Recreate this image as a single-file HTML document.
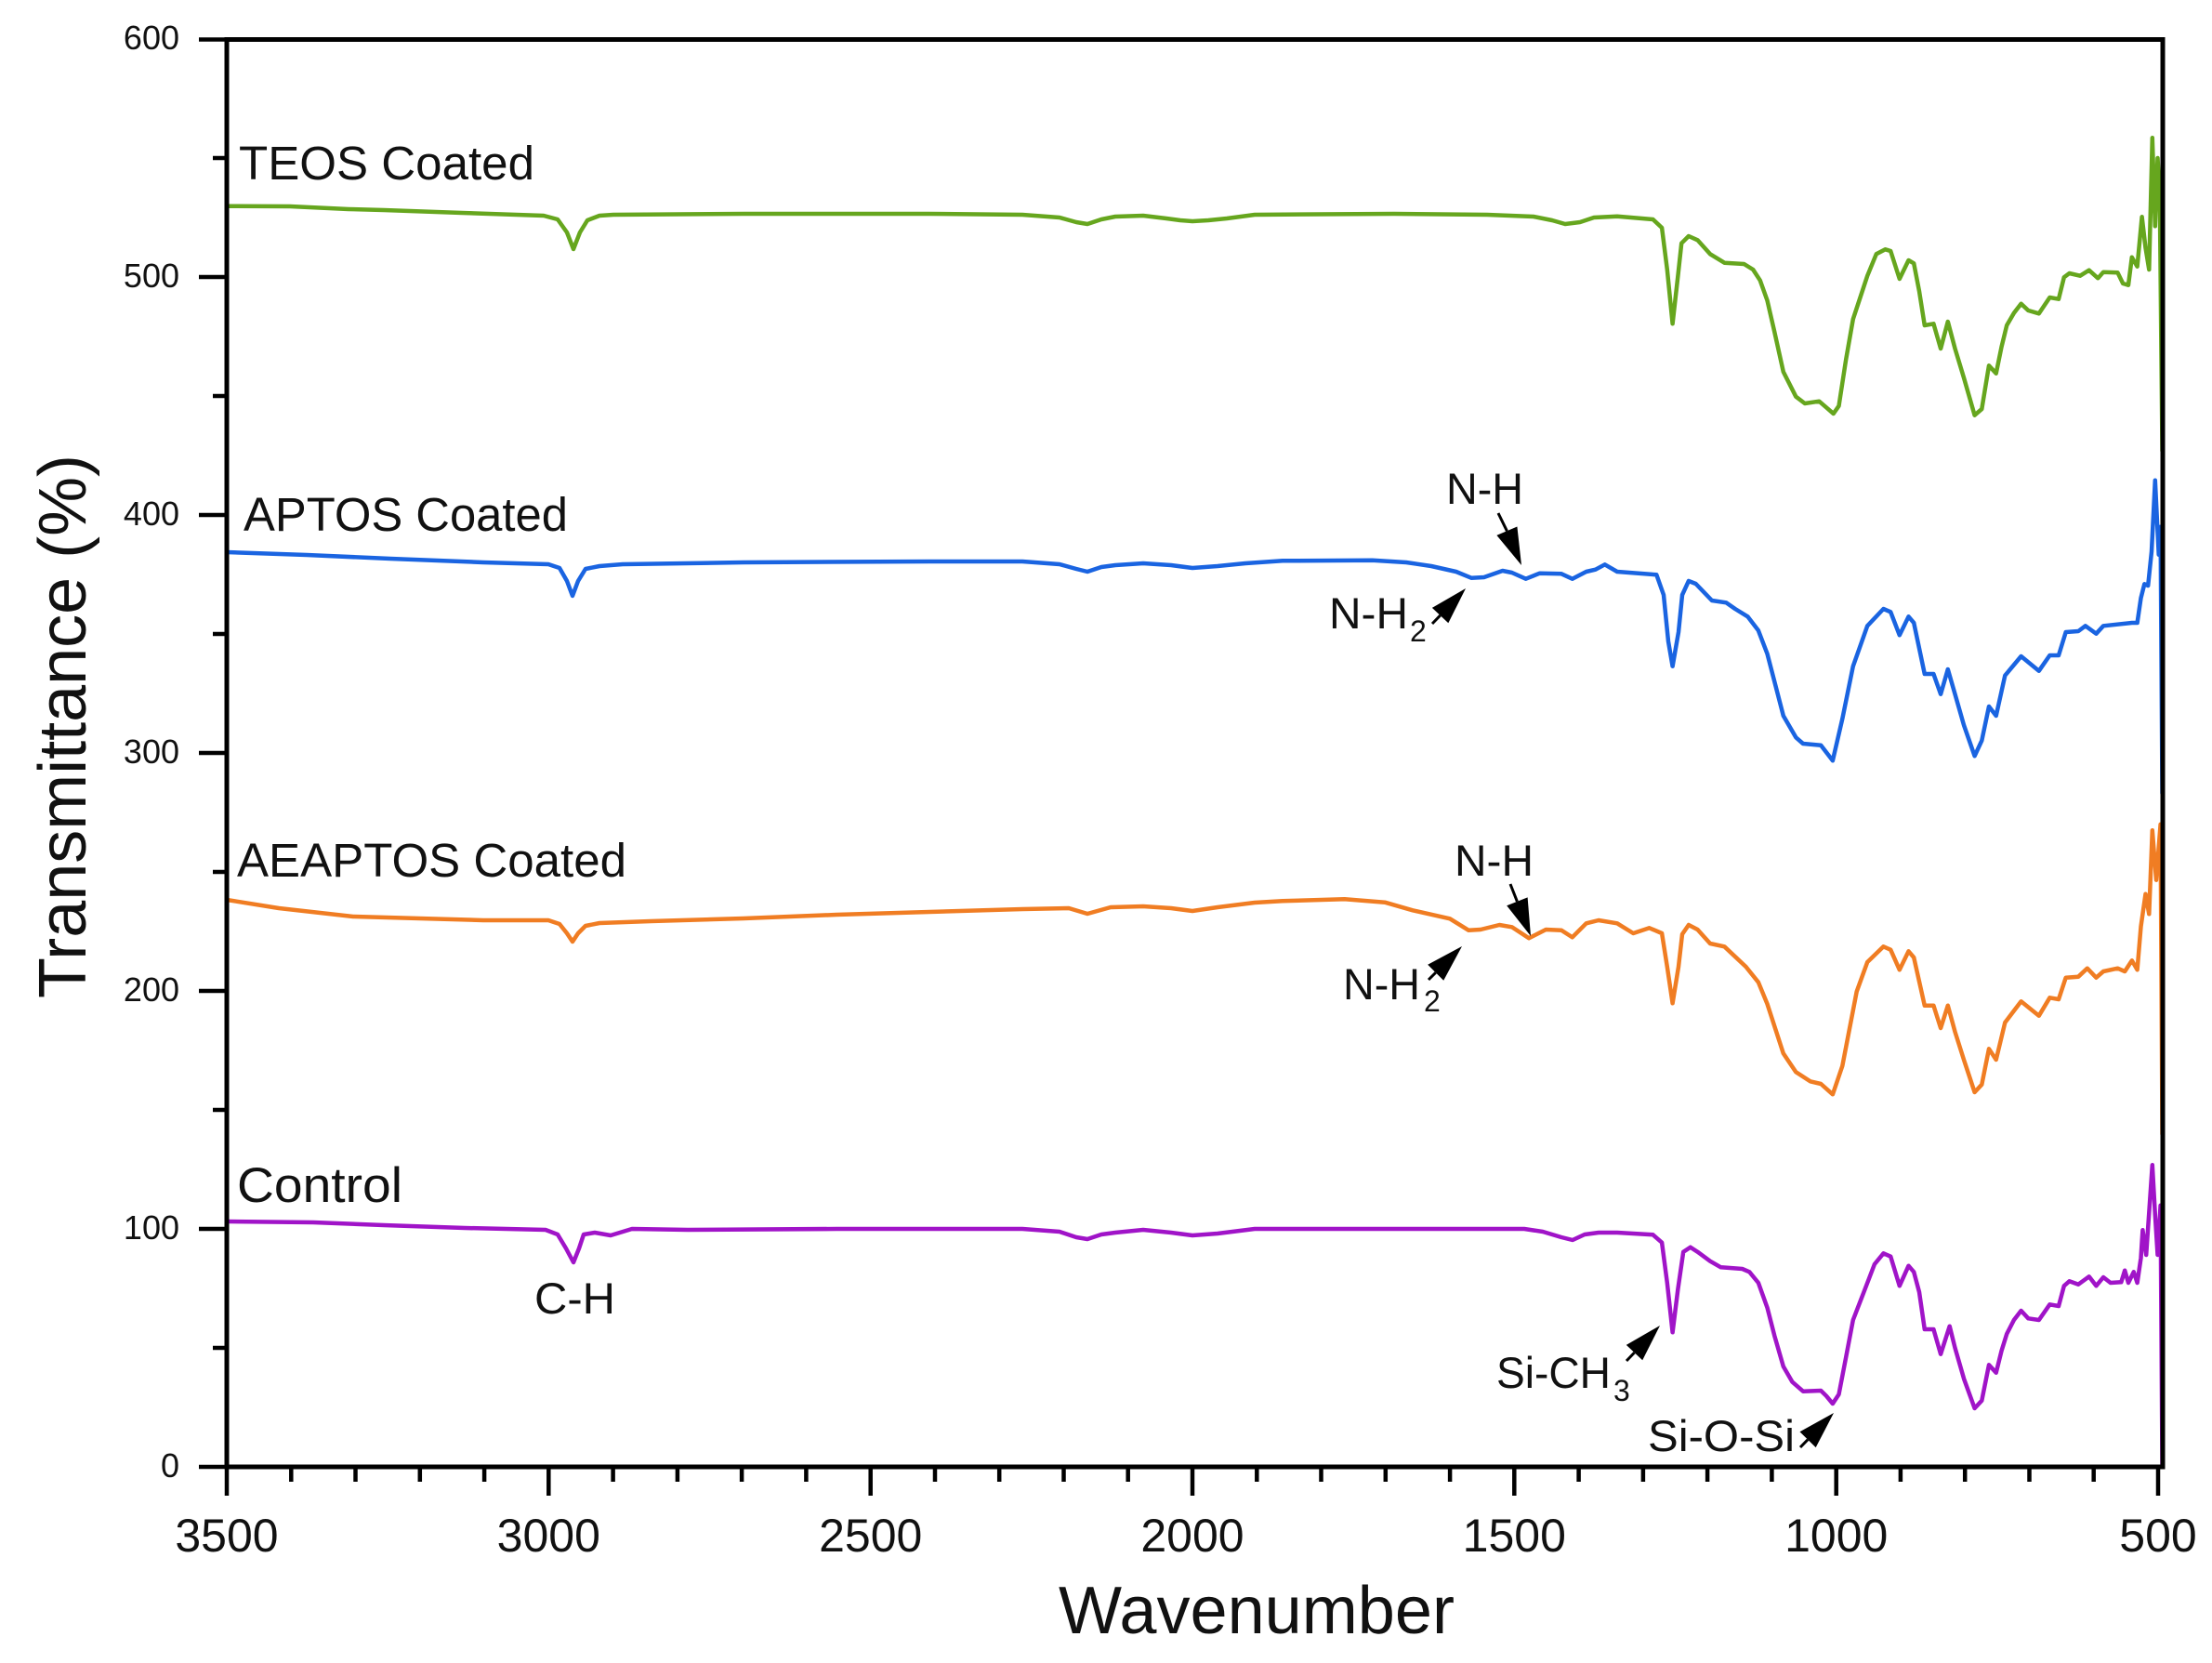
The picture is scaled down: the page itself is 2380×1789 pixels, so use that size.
<!DOCTYPE html>
<html>
<head>
<meta charset="utf-8">
<style>
html,body{margin:0;padding:0;background:#fff;}
svg{display:block;}
text{font-family:"Liberation Sans", Arial, sans-serif; fill:#111;}
</style>
</head>
<body>
<svg width="2380" height="1789" viewBox="0 0 2380 1789" xmlns="http://www.w3.org/2000/svg">
<rect x="0" y="0" width="2380" height="1789" fill="#fff"/>

<!-- Series -->
<g fill="none" stroke-width="4.5" stroke-linejoin="round" stroke-linecap="round">
<polyline stroke="#66a61e" points="244,221.7 312,222 375,225 413,226 497,229 585,232 600,236 610,250 617,268 624,250 632,237 645,232 660,231 800,230 1000,230 1100,231 1140,234 1158,239 1170,241 1185,236 1200,233 1230,232 1255,235 1270,237 1283,238 1300,237 1320,235 1350,231 1500,230 1600,231 1650,233 1670,237 1684,241 1700,239 1715,234 1740,232.7 1778.5,236 1788.1,245 1793.8,290 1799.6,348.3 1805.4,296.7 1809.2,261.7 1816.9,254 1826.5,258.3 1840,273.3 1855.4,282.7 1876.5,284 1886.2,290 1893.8,301.7 1901.5,323.3 1909.2,356.7 1918.8,400 1932.3,426.7 1941.9,434 1957.3,431.7 1965,438.3 1972.7,445 1978.5,436.7 1986.2,386.7 1993.8,343.3 2001.5,320 2009.2,296.7 2018.8,273.3 2028.5,268.3 2034.2,270 2043.8,300 2053.5,280 2059.2,283.3 2065,313.3 2070.8,350 2080.4,348.3 2088.1,375 2095.8,346 2103.5,375 2113.1,406.7 2124.6,446.7 2132.3,440 2140,393.3 2147.7,401.7 2153.5,373.3 2159.2,350 2166.9,336.7 2174.6,326.7 2182.3,334 2193.8,337.3 2205.4,320 2215,321.7 2220.8,298.3 2226.5,294 2238.1,296.7 2247.7,290.7 2257.3,299.3 2263.1,292.7 2278.5,293.3 2284.2,305 2290,306.7 2293.8,276.7 2299.6,286.7 2304.6,233.3 2308.5,266.7 2312.3,290 2315.8,148.3 2318.8,243.3 2321.5,170 2323.8,213.3 2326.5,485"/>

<polyline stroke="#1a64e1" points="244,594 330,597 420,601 520,605 590,607 602,611 610,625 616,641 622,625 630,612 645,609 670,607 800,605 1000,604 1100,604 1140,607 1158,612 1170,615 1185,610 1200,608 1230,606 1260,608 1283,611 1310,609 1340,606 1380,603.3 1476.7,602.7 1513,605 1540,609 1566.7,615 1583,621.7 1596.7,621 1616.7,614 1626.7,616 1641.7,622.7 1656.7,616.7 1680,617.3 1691.7,622.7 1706.7,615 1716.7,612.7 1726.7,607.3 1740,615 1782.3,618.3 1790,640 1795,690 1799.6,716.7 1806,680 1810,640 1816.9,625 1824.6,628 1841.9,646 1857.3,648.3 1866.9,655 1880.4,663.3 1891.9,678.3 1901.5,703.3 1918.8,770 1932.3,793.3 1940,800 1959.2,801.7 1971.9,818.3 1982.3,773.3 1993.8,716.7 2009.2,673.3 2026.5,655 2034.2,658.3 2043.8,683.3 2053.5,663.3 2059.2,670 2070.8,725 2080.4,725 2088.1,746.7 2095.8,720 2103.5,746.7 2113,780 2124.6,813.3 2132.3,796.7 2140,760 2147.7,770 2157.3,726.7 2174.6,706 2193.8,721.7 2205.4,705 2215,705 2222.7,680 2236.2,679 2243.8,673.3 2255.4,681.7 2263.1,673.3 2293.8,670 2299.6,670 2303.5,643.3 2307.3,628.3 2311.2,630 2315,593.3 2318.8,516.7 2322.7,596.7 2324.6,566.7 2326.5,853.3"/>

<polyline stroke="#f07d23" points="244,968 300,977 380,986 520,990 590,990 602,994 610,1004 616,1013 622,1004 630,996 645,993 700,991 800,988 900,984 1000,981 1100,978 1150,977 1170,983 1195,976 1230,975 1260,977 1283,980 1310,976 1350,971 1380,969.3 1446.7,967.3 1490,970.7 1520,979.3 1560,988.3 1580,1000.7 1593,1000 1613.3,995 1626.7,997.3 1645,1009.3 1663.3,1000 1680,1000.7 1691.7,1008.3 1706.7,993.3 1720,990 1740,993.3 1757.3,1004 1774.6,998.3 1788.1,1004 1793.8,1040 1799.6,1079.3 1806,1040 1810,1005 1816.9,995 1826.5,1000 1840,1015 1855.4,1018.3 1878.5,1040 1891.9,1056.7 1901.5,1080 1918.8,1133.3 1932.3,1153.3 1947.7,1163.3 1959.2,1166 1971.9,1177.3 1982.3,1146.7 1997.7,1066.7 2009.2,1035 2026.5,1018.3 2034.2,1021.7 2043.8,1043.3 2053.5,1023.3 2059.2,1030 2070.8,1081.7 2080.4,1081.7 2088.1,1106 2095.8,1081.7 2103.5,1110 2113,1140 2124.6,1175 2132.3,1166.7 2140,1128.3 2147.7,1140 2157.3,1100 2174.6,1077.3 2193.8,1092.7 2205.4,1073.3 2215,1075 2222.7,1051.7 2236.2,1050.7 2245.8,1041.7 2255.4,1051.7 2263.1,1045 2278.5,1041.7 2286.2,1045 2293.8,1033.3 2299.6,1043.3 2303.5,996.7 2308.5,961.7 2312.3,983.3 2315.8,893.3 2320,946.7 2324.6,886.7 2326.5,1220"/>

<polyline stroke="#a014c8" points="244,1314 337,1315 413,1318 500,1321 587,1323 600,1328 609,1343 617,1358 623,1343 628,1328 640,1326 657,1329 680,1322 740,1323 900,1322 1100,1322 1140,1325 1158,1331 1170,1333 1185,1328 1200,1326 1230,1323 1260,1326 1283,1329 1310,1327 1350,1322 1500,1322 1640,1322 1660,1325 1680,1331 1692,1334 1705,1328 1720,1326 1740,1326 1778.5,1328.3 1788.1,1336.7 1793.8,1380 1799.6,1433.3 1805.4,1386.7 1811.2,1346.7 1818.8,1341.7 1826.5,1346.7 1840,1356.7 1851.5,1363.3 1874.6,1365 1882.3,1368.3 1891.9,1380 1901.5,1406.7 1909.2,1436.7 1918.8,1470 1928.5,1486.7 1940,1496.7 1959.2,1496 1965,1501.7 1971.9,1510 1978.5,1500 1986.2,1460 1993.8,1420 2005.4,1390 2016.9,1360 2026.5,1348.3 2034.2,1351.7 2043.8,1383.3 2053.5,1361.7 2059.2,1368.3 2065,1390 2070.8,1430 2080.4,1430 2088.1,1456.7 2097.7,1426.7 2103.5,1450 2113.1,1483.3 2124.6,1515 2132.3,1506.7 2140,1468.3 2147.7,1476.7 2153.5,1453.3 2159.2,1435 2166.9,1420 2174.6,1410 2182.3,1418.3 2193.8,1420 2205.4,1403.3 2215,1405 2220.8,1383.3 2226.5,1378.3 2236.2,1381.7 2247.7,1373.3 2255.4,1383.3 2263.1,1374 2270.8,1380 2282.3,1379.3 2286.2,1366.7 2290,1380 2295.8,1368.3 2299.6,1380 2303.5,1353.3 2305.4,1323.3 2309.2,1350 2315.8,1253.3 2318.8,1306.7 2321.5,1350 2324.6,1296.7 2326.5,1578"/>
</g>

<!-- Frame -->
<rect x="244" y="42.5" width="2083" height="1535.5" fill="none" stroke="#000" stroke-width="5"/>

<!-- Y ticks -->
<g stroke="#000" stroke-width="4.5">
<line x1="214" y1="1578" x2="244" y2="1578"/>
<line x1="214" y1="1322" x2="244" y2="1322"/>
<line x1="214" y1="1066" x2="244" y2="1066"/>
<line x1="214" y1="810" x2="244" y2="810"/>
<line x1="214" y1="554" x2="244" y2="554"/>
<line x1="214" y1="298" x2="244" y2="298"/>
<line x1="214" y1="42.5" x2="244" y2="42.5"/>
<line x1="229" y1="1450" x2="244" y2="1450"/>
<line x1="229" y1="1194" x2="244" y2="1194"/>
<line x1="229" y1="938" x2="244" y2="938"/>
<line x1="229" y1="682" x2="244" y2="682"/>
<line x1="229" y1="426" x2="244" y2="426"/>
<line x1="229" y1="170" x2="244" y2="170"/>
</g>

<!-- X ticks -->
<g stroke="#000" stroke-width="4.5">
<line x1="244" y1="1578" x2="244" y2="1609"/>
<line x1="590.3" y1="1578" x2="590.3" y2="1609"/>
<line x1="936.7" y1="1578" x2="936.7" y2="1609"/>
<line x1="1283" y1="1578" x2="1283" y2="1609"/>
<line x1="1629.3" y1="1578" x2="1629.3" y2="1609"/>
<line x1="1975.7" y1="1578" x2="1975.7" y2="1609"/>
<line x1="2322" y1="1578" x2="2322" y2="1609"/>
<line x1="313.3" y1="1578" x2="313.3" y2="1594"/>
<line x1="382.5" y1="1578" x2="382.5" y2="1594"/>
<line x1="451.8" y1="1578" x2="451.8" y2="1594"/>
<line x1="521.1" y1="1578" x2="521.1" y2="1594"/>
<line x1="659.6" y1="1578" x2="659.6" y2="1594"/>
<line x1="728.9" y1="1578" x2="728.9" y2="1594"/>
<line x1="798.1" y1="1578" x2="798.1" y2="1594"/>
<line x1="867.4" y1="1578" x2="867.4" y2="1594"/>
<line x1="1006" y1="1578" x2="1006" y2="1594"/>
<line x1="1075.2" y1="1578" x2="1075.2" y2="1594"/>
<line x1="1144.5" y1="1578" x2="1144.5" y2="1594"/>
<line x1="1213.7" y1="1578" x2="1213.7" y2="1594"/>
<line x1="1352.3" y1="1578" x2="1352.3" y2="1594"/>
<line x1="1421.5" y1="1578" x2="1421.5" y2="1594"/>
<line x1="1490.8" y1="1578" x2="1490.8" y2="1594"/>
<line x1="1560.1" y1="1578" x2="1560.1" y2="1594"/>
<line x1="1698.6" y1="1578" x2="1698.6" y2="1594"/>
<line x1="1767.9" y1="1578" x2="1767.9" y2="1594"/>
<line x1="1837.1" y1="1578" x2="1837.1" y2="1594"/>
<line x1="1906.4" y1="1578" x2="1906.4" y2="1594"/>
<line x1="2044.9" y1="1578" x2="2044.9" y2="1594"/>
<line x1="2114.2" y1="1578" x2="2114.2" y2="1594"/>
<line x1="2183.5" y1="1578" x2="2183.5" y2="1594"/>
<line x1="2252.7" y1="1578" x2="2252.7" y2="1594"/>
</g>

<!-- Y tick labels -->
<g font-size="36" text-anchor="end">
<text x="193" y="1589">0</text>
<text x="193" y="1333">100</text>
<text x="193" y="1077">200</text>
<text x="193" y="821">300</text>
<text x="193" y="565">400</text>
<text x="193" y="309">500</text>
<text x="193" y="53">600</text>
</g>

<!-- X tick labels -->
<g font-size="50" text-anchor="middle">
<text x="244" y="1669">3500</text>
<text x="590.3" y="1669">3000</text>
<text x="936.7" y="1669">2500</text>
<text x="1283" y="1669">2000</text>
<text x="1629.3" y="1669">1500</text>
<text x="1975.7" y="1669">1000</text>
<text x="2322" y="1669">500</text>
</g>

<!-- Axis titles -->
<text x="1139" y="1757" font-size="72" textLength="426" lengthAdjust="spacingAndGlyphs">Wavenumber</text>
<text transform="translate(92,1074) rotate(-90)" x="0" y="0" font-size="72" textLength="585" lengthAdjust="spacingAndGlyphs">Transmittance (%)</text>

<!-- Series labels -->
<text x="257" y="193" font-size="51" textLength="318" lengthAdjust="spacingAndGlyphs">TEOS Coated</text>
<text x="262" y="571" font-size="51" textLength="349" lengthAdjust="spacingAndGlyphs">APTOS Coated</text>
<text x="255" y="943" font-size="51" textLength="419" lengthAdjust="spacingAndGlyphs">AEAPTOS Coated</text>
<text x="255" y="1293" font-size="53" textLength="178" lengthAdjust="spacingAndGlyphs">Control</text>

<!-- Annotations -->
<g font-size="47">
<text x="1556" y="542" textLength="83" lengthAdjust="spacingAndGlyphs">N-H</text>
<text x="1430" y="676" textLength="85" lengthAdjust="spacingAndGlyphs">N-H</text>
<text x="1517" y="690" font-size="32">2</text>
<text x="1565" y="942" textLength="85" lengthAdjust="spacingAndGlyphs">N-H</text>
<text x="1445" y="1075" textLength="83" lengthAdjust="spacingAndGlyphs">N-H</text>
<text x="1532" y="1088" font-size="32">2</text>
<text x="575" y="1413" textLength="87" lengthAdjust="spacingAndGlyphs">C-H</text>
<text x="1610" y="1493" textLength="123" lengthAdjust="spacingAndGlyphs">Si-CH</text>
<text x="1736" y="1507" font-size="32">3</text>
<text x="1773" y="1561" textLength="158" lengthAdjust="spacingAndGlyphs">Si-O-Si</text>
</g>

<!-- Arrows -->
<g stroke="#000" stroke-width="3" fill="#000">
<line x1="1612" y1="552" x2="1621.4" y2="571.2"/>
<polygon points="1637,608 1610.4,575.9 1632.4,566.5" stroke="none"/>
<line x1="1541" y1="671" x2="1549.6" y2="662.1"/>
<polygon points="1577,633 1558.3,670.3 1540.9,653.9" stroke="none"/>
<line x1="1625" y1="951" x2="1632.4" y2="969.8"/>
<polygon points="1647,1007 1621.2,974.2 1643.6,965.4" stroke="none"/>
<line x1="1537" y1="1054" x2="1544.7" y2="1046.3"/>
<polygon points="1573,1018 1553.2,1054.8 1536.2,1037.8" stroke="none"/>
<line x1="1750" y1="1464" x2="1758.5" y2="1455.1"/>
<polygon points="1786,1426 1767.2,1463.3 1749.8,1446.9" stroke="none"/>
<line x1="1937" y1="1557" x2="1945.1" y2="1548.7"/>
<polygon points="1973,1520 1953.7,1557.1 1936.5,1540.3" stroke="none"/>
</g>
</svg>
</body>
</html>
